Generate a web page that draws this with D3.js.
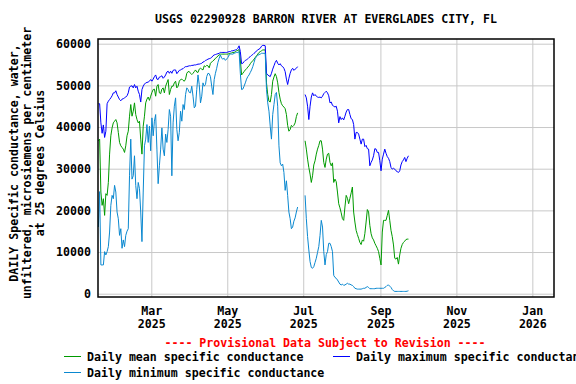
<!DOCTYPE html>
<html><head><meta charset="utf-8">
<script src="https://cdn.jsdelivr.net/npm/d3@7"></script>
<style>
html,body{margin:0;padding:0;background:#fff;}
svg text{font-family:"DejaVu Sans Mono",monospace;font-weight:bold;font-size:11.6px;fill:#000;}
</style></head>
<body>
<svg id="chart" width="576" height="384"></svg>
<script>
// ---------------- DATA ----------------
const title = "USGS 02290928 BARRON RIVER AT EVERGLADES CITY, FL";
const yLabelLines = ["DAILY Specific conductance, water,", "unfiltered, microsiemens per centimeter", "at 25 degrees Celsius"];
const provisionalText = "---- Provisional Data Subject to Revision ----";
const seriesNames = ["Daily mean specific conductance", "Daily maximum specific conductance", "Daily minimum specific conductance"];
const firstDay = "2025-01-17"; // daily values start here, one value per day
const yTicks = [0, 10000, 20000, 30000, 40000, 50000, 60000];
const xTickDates = ["2025-03-01", "2025-05-01", "2025-07-01", "2025-09-01", "2025-11-01", "2026-01-01"];
const xTickMonths = ["Mar", "May", "Jul", "Sep", "Nov", "Jan"];
const xTickYears = ["2025", "2025", "2025", "2025", "2025", "2026"];
const N = null;
const maxValues = [
45600,45600,41000,38500,40500,37500,39000,45600,46200,46600,
47000,47500,48200,48200,48700,47800,47200,46600,46300,46700,
46800,47000,47200,47500,48200,49600,49800,49900,49400,50200,
49400,49800,48600,47800,46000,49000,49800,50300,50600,50700,
50800,51000,51400,51000,51500,52100,52500,51500,51400,52000,
52100,52300,51700,52000,52500,53200,53400,52900,53400,52900,
53600,53700,53700,52800,53200,53600,53700,53900,54000,54300,
54500,54500,54600,54700,54700,54800,54800,54900,54900,55000,
55100,55100,55200,55300,55600,55700,56000,56100,56300,56400,
56500,56700,57100,57300,57400,57500,57600,57700,57900,57900,
57900,57900,57900,57900,58000,58100,58100,58300,58300,58400,
58500,58600,58900,59500,58100,55200,55300,55700,56000,56100,
56400,56700,56900,57200,57400,57700,57900,58300,58500,58700,
58900,59400,59600,59600,59500,52900,52500,52300,52100,52900,
53900,54700,55500,56000,55300,54900,55200,54700,54500,54100,
53300,51500,50200,51700,52900,53700,54100,53600,53900,54100,
54500,N,N,N,N,N,47800,47000,45000,41800,
45000,47200,48200,47500,47800,47400,47200,47100,47200,47000,
47400,48000,48300,48600,48200,47500,45800,46000,45200,45000,
44800,45000,43800,41000,42500,41800,42200,41700,42600,43600,
44200,44200,43000,42000,41800,40600,37100,38700,38700,38300,
37100,35900,37100,37100,35300,35600,34800,34700,30700,31500,
32100,33100,34800,34700,33900,33900,31900,29500,32300,33500,
34700,33700,32900,32500,31700,30300,29900,30100,29900,29500,
29300,29100,29500,30900,31700,32100,32700,31700,32500,33100];
const meanValues = [
36700,37100,24400,21200,22800,18800,24000,23600,26700,33500,
37900,39800,41000,41400,41800,41000,38700,36300,35500,35100,
34700,33900,35500,37900,39000,42600,45400,42600,43800,45800,
43000,41800,41000,41400,37100,33500,40200,42600,45800,46700,
47200,46400,47400,48300,49000,49100,47400,49800,50200,48200,
48000,49100,49400,48200,49800,50600,51400,47800,49000,49800,
49800,50600,51000,49400,49800,51000,51400,51500,51200,51000,
51500,52900,53300,53300,52900,52600,52900,53300,53700,53200,
53100,53900,54100,53900,53700,54700,54500,54800,54700,54200,
55300,55600,55900,56100,56500,56700,57100,57300,57500,57500,
57500,57500,57500,57500,57500,57600,57700,57800,57900,57900,
58100,58300,58400,58600,56100,52500,52900,53300,53700,54000,
54400,54700,55200,55600,55900,56300,56700,57100,57500,57900,
58100,58300,58500,58500,58500,50600,47800,46200,46000,47800,
51000,52000,52800,52100,50600,48300,46700,45600,45100,44800,
44400,43000,40400,39000,39400,40400,40100,40400,41000,42500,
43400,N,N,N,N,N,36700,34700,32300,30300,
28700,26700,28300,30900,31900,33500,34700,35600,36700,36700,
34700,31500,30300,32300,33500,33700,31500,30700,31400,26700,
27500,26900,24400,21600,20600,19400,18000,17600,20800,23600,
22900,21600,22900,24200,25600,19600,17200,15200,14200,13300,
12300,11800,12900,12600,14400,17200,20200,19600,16400,14400,
13400,12900,12100,11500,10900,10100,8500,6900,14800,17600,
17600,17600,18800,20000,17600,15200,13700,11700,8500,8300,
8700,7100,9300,10900,11800,12300,12600,13000,13100,13100];
const minValues = [
16000,24500,6900,6900,6900,10100,9300,10100,11300,14800,
21200,23600,22800,26000,24400,19600,18000,14000,15600,10900,
12900,11300,14000,15000,15600,28300,37100,27500,28300,33100,
26000,22800,26700,25200,19600,12500,24400,35500,37100,40600,
36300,40200,34300,42200,37900,41400,43000,34700,26400,30700,
34700,39800,34700,33100,38300,36300,39400,44200,42600,28300,
41000,45000,47000,39400,36700,38700,43800,41400,45400,44200,
47800,49400,49000,48300,48200,49800,47400,44600,45000,49000,
52500,50200,45800,47400,50600,49800,50200,52100,52900,52800,
52100,49800,47800,51400,52900,54100,55500,56500,57300,56500,
56300,56500,56000,56300,56700,57300,57500,57500,57500,57700,
57800,57900,57900,58100,52900,49000,49100,49800,50600,51500,
52100,52500,53100,53700,54500,55500,56500,56900,57200,57400,
57500,57700,57700,57700,57700,49000,45800,43800,40200,37100,
43000,45400,47800,48300,45000,35500,31400,30700,31100,29100,
24800,27100,23600,19600,18000,15600,16000,17400,18200,19600,
20800,N,N,N,N,N,23600,18000,13700,10500,
7700,6300,6100,6500,7500,8500,9900,11300,14000,17600,
16000,10100,6900,9400,10100,12100,12100,11300,10100,4400,
3900,3700,3300,2800,2300,2100,2300,2000,2100,2300,
2500,2300,2300,2100,2000,1700,1300,1200,1100,1100,
1100,1100,1200,1300,1300,1500,1700,1500,1200,1200,
1200,1200,1200,1300,1300,1300,1300,1300,1300,1300,
1500,1700,2000,2100,1800,1500,1000,700,550,550,
550,550,550,550,550,550,550,550,600,700];

// ---------------- LAYOUT ----------------
const L = 98, R = 554, T = 39, B = 297;
const DAY = 864e5;
const t0 = Date.parse(firstDay + "T00:00:00Z");
const svg = d3.select("#chart");

const x = d3.scaleUtc()
  .domain([new Date(t0 + 0.19 * DAY), new Date(t0 + 366.4 * DAY)])
  .range([L, R]);
const y = d3.scaleLinear().domain([-792, 61128]).range([B, T]);

const dayDate = i => new Date(t0 + (i + 0.5) * DAY);
const toPts = arr => arr.map((v, i) => ({ d: dayDate(i), v }));

// gridlines + y labels
const gy = svg.append("g").attr("transform", `translate(${L},0)`)
  .call(d3.axisLeft(y).tickValues(yTicks).tickSize(-(R - L)).tickPadding(7).tickFormat(d3.format("d")));
gy.select(".domain").remove();
gy.selectAll(".tick line").attr("stroke", "#c8c8c8").attr("stroke-width", 1);
gy.selectAll(".tick text").attr("font-size", null).attr("font-family", null);

const xDates = xTickDates.map(s => new Date(s + "T00:00:00Z"));
const gx = svg.append("g").attr("transform", `translate(0,${B})`)
  .call(d3.axisBottom(x).tickValues(xDates).tickSize(-(B - T)).tickFormat(""));
gx.select(".domain").remove();
gx.selectAll(".tick line").attr("stroke", "#c8c8c8").attr("stroke-width", 1);
gx.selectAll(".tick text").each(function (d, i) {
  const t = d3.select(this).attr("dy", null).attr("y", null).attr("text-anchor", "middle");
  t.append("tspan").attr("x", 0).attr("y", 18).text(xTickMonths[i]);
  t.append("tspan").attr("x", 0).attr("y", 31).text(xTickYears[i]);
});

// series
const line = d3.line().defined(p => p.v != null).x(p => x(p.d)).y(p => y(p.v));
const colors = ["#009a00", "#0000ff", "#0a88d0"];
const plot = svg.append("g");
[[meanValues, colors[0]], [maxValues, colors[1]], [minValues, colors[2]]].forEach(([vals, c]) => {
  plot.append("path").datum(toPts(vals)).attr("d", line)
    .attr("fill", "none").attr("stroke", c).attr("stroke-width", 1).attr("stroke-linejoin", "miter");
});

// frame
svg.append("rect").attr("x", L).attr("y", T).attr("width", R - L).attr("height", B - T)
  .attr("fill", "none").attr("stroke", "#000").attr("stroke-width", 1.5);

// title
svg.append("text").attr("x", (L + R) / 2).attr("y", 23).attr("text-anchor", "middle").text(title);

// y label
const ylab = svg.append("text").attr("transform", "translate(0,163) rotate(-90)").attr("text-anchor", "middle");
[13.5, 26.5, 40].forEach((cx, i) => {
  ylab.append("tspan").attr("x", 0).attr("y", cx).attr("dy", "0.36em").text(yLabelLines[i]);
});

// provisional
svg.append("text").attr("x", 325).attr("y", 347).attr("text-anchor", "middle")
  .style("fill", "#ff0000").text(provisionalText);

// legend
const legend = [
  { x: 64, y: 356.5, c: colors[0], t: seriesNames[0] },
  { x: 333, y: 356.5, c: colors[1], t: seriesNames[1] },
  { x: 64, y: 372.5, c: colors[2], t: seriesNames[2] }
];
legend.forEach(l => {
  svg.append("line").attr("x1", l.x).attr("x2", l.x + 17).attr("y1", l.y).attr("y2", l.y)
    .attr("stroke", l.c).attr("stroke-width", 1);
  svg.append("text").attr("x", l.x + 23).attr("y", l.y + 4).text(l.t);
});
</script>
</body></html>
